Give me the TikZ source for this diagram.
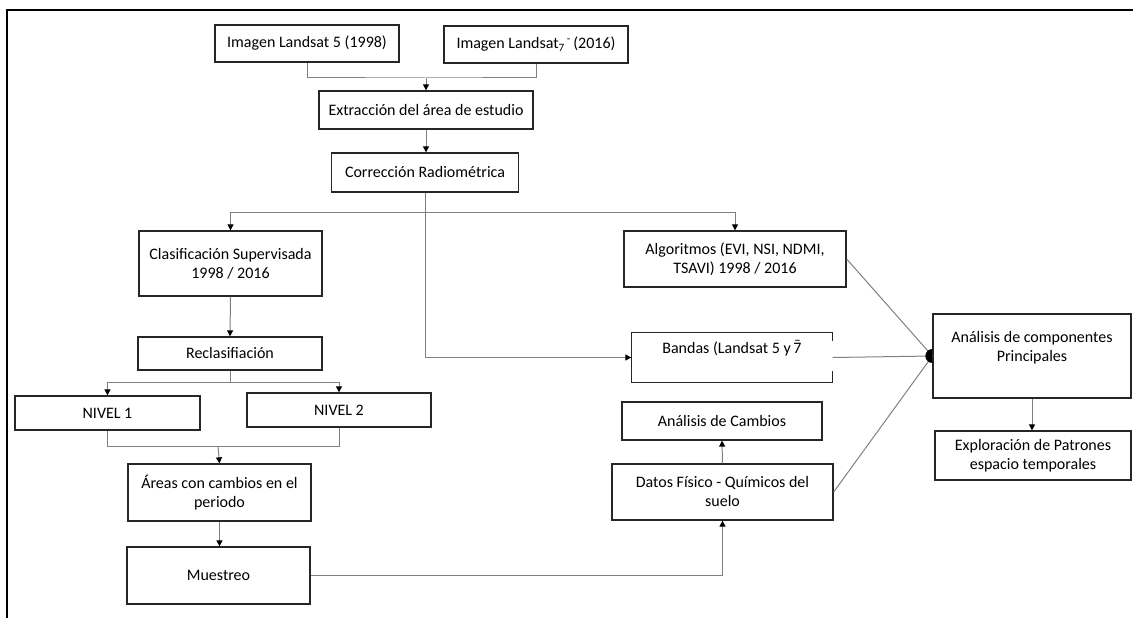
\documentclass[tikz,border=0pt]{standalone}
\usepackage{fontspec}
\setmainfont{Carlito}
\usetikzlibrary{arrows.meta}

\newcommand*{\frameleft}{7}
\newcommand*{\frametop}{10}
\newcommand*{\pagewidth}{1133}
\newcommand*{\pageheight}{618}
\newcommand*{\barseven}{\ooalign{7\cr\hidewidth\raisebox{0.5ex}{¯}\hidewidth\cr}}

\begin{document}
\begin{tikzpicture}[x=1pt,y=-1pt,
	outline/.style={draw=black!85,line width=1.3pt},
	box/.style={outline,fill=white,inner sep=0pt,align=center,font=\fontsize{16}{19}\selectfont},
	edge/.style={draw=black!50,line width=1pt},
	flow/.style={edge,-{Triangle[color=black,width=6pt,length=6pt]}}]

	\useasboundingbox (0,0) rectangle (\pagewidth,\pageheight);

	% frame
	\draw[line width=2.2pt] (\pagewidth,\frametop) -- (\frameleft,\frametop) -- (\frameleft,\pageheight);

	% images
	\node[box,minimum width=184pt,minimum height=37pt] (img5) at (307,43.5) {Imagen Landsat 5 (1998)};
	\node[box,minimum width=184pt,minimum height=37pt] (img7) at (536,44.5) {Imagen Landsat\textsubscript{7}\textsuperscript{\,-}\,(2016)};
	\node[box,minimum width=214pt,minimum height=38pt] (extrac) at (426,110) {Extracción del área de estudio};
	\node[box,minimum width=187pt,minimum height=39pt] (correc) at (425,172.5) {Corrección Radiométrica};

	% left branch
	\node[box,minimum width=183pt,minimum height=65pt] (clasif) at (230.5,263.5) {Clasificación Supervisada\\1998 / 2016};
	\node[box,minimum width=184pt,minimum height=33pt] (reclas) at (230,353.5) {Reclasifiación};
	\node[box,minimum width=185pt,minimum height=34pt] (nivel1) at (107.5,413) {NIVEL 1};
	\node[box,minimum width=184pt,minimum height=34pt] (nivel2) at (339,410) {NIVEL 2};
	\node[box,minimum width=183pt,minimum height=57pt] (areas) at (219.5,492.5) {Áreas con cambios en el\\periodo};
	\node[box,minimum width=183pt,minimum height=57pt] (muestreo) at (218.5,575.5) {Muestreo};

	% right branch
	\node[box,minimum width=222pt,minimum height=56pt] (algor) at (735,259) {Algoritmos (EVI, NSI, NDMI,\\TSAVI) 1998 / 2016};
	\node[box,draw=none,minimum width=200pt,minimum height=49pt] (bandas) at (732,357.5) {Bandas (Landsat 5 y\,\barseven\\\mbox{}};
	\draw[outline] ([yshift=-9pt]bandas.north east) -- (bandas.north east) -- (bandas.north west) -- (bandas.south west) -- (bandas.south east) -- ([yshift=12pt]bandas.south east);
	\node[box,minimum width=200pt,minimum height=38pt] (cambios) at (722,421) {Análisis de Cambios};
	\node[box,minimum width=221pt,minimum height=56pt] (datos) at (722.5,492) {Datos Físico - Químicos del\\suelo};
	\node[box,minimum width=198pt,minimum height=84pt] (acp) at (1032,356) {Análisis de componentes\\Principales\\\mbox{}};
	\node[box,minimum width=196pt,minimum height=49pt] (explor) at (1033,455.5) {Exploración de Patrones\\espacio temporales};

	% junctions
	\coordinate (j1) at (426,78);
	\coordinate (j2) at (425,212);
	\coordinate (j3) at (230,382);
	\coordinate (j4) at (218,446);

	% connectors
	\draw[edge] (img5.south) |- (j1) -| (img7.south);
	\draw[flow] (j1) -- (extrac.north);
	\draw[flow] (extrac.south) -- (extrac.south |- correc.north);
	\draw[edge] (correc.south) -- (j2);
	\draw[flow] (j2) -| (clasif.north);
	\draw[flow] (j2) -| (algor.north);
	\draw[flow] (j2) |- (bandas.west);
	\draw[flow] (clasif.south) -- (reclas.north);
	\draw[edge] (reclas.south) -- (j3);
	\draw[flow] (j3) -| (nivel1.north);
	\draw[flow] (j3) -| (nivel2.north);
	\draw[edge] (nivel1.south) |- (j4);
	\draw[edge] (nivel2.south) |- (j4);
	\draw[flow] (j4) -- (areas.north);
	\draw[flow] (areas.south) -- (muestreo.north -| areas.south);
	\draw[flow] (muestreo.east) -| (datos.south);
	\draw[flow] (datos.north) -- (cambios.south);
	\draw[edge] (algor.east) -- (acp.west);
	\draw[edge] (bandas.east) -- (acp.west);
	\draw[edge] (datos.east) -- (acp.west);
	\draw[flow] (acp.south) -- (acp.south |- explor.north);
	\fill (acp.west) -- ++(0,-7) arc[start angle=90,end angle=270,radius=7pt] -- cycle;

\end{tikzpicture}
\end{document}
